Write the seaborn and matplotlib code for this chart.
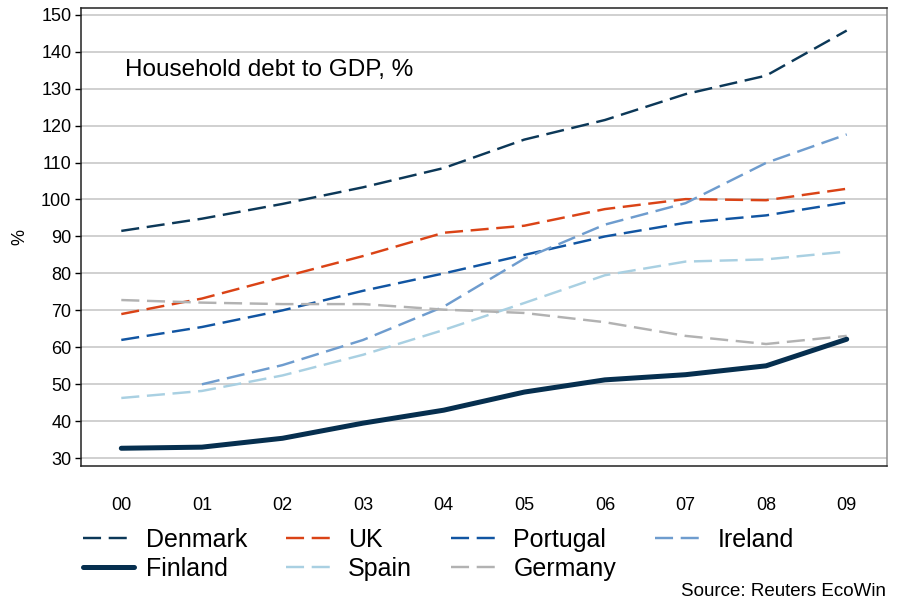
import numpy as np
import pandas as pd
import matplotlib
matplotlib.use("Agg")
import matplotlib.pyplot as plt
import seaborn as sns

# data
years = ['00', '01', '02', '03', '04', '05', '06', '07', '08', '09']
denmark = [91.5, 94.8, 98.8, 103.3, 108.5, 116.2, 121.5, 128.5, 133.5, 145.7]
uk = [69.0, 73.2, 79.0, 84.7, 91.0, 92.9, 97.4, 100.1, 99.8, 102.9]
portugal = [62.0, 65.5, 70.0, 75.3, 80.0, 85.0, 90.0, 93.7, 95.7, 99.2]
ireland = [np.nan, 50.0, 55.2, 62.0, 71.0, 84.0, 93.2, 99.0, 109.9, 117.6]
finland = [32.7, 33.0, 35.4, 39.5, 43.0, 47.9, 51.2, 52.6, 55.0, 62.2]
spain = [46.3, 48.2, 52.4, 58.0, 64.7, 72.0, 79.5, 83.2, 83.8, 85.9]
germany = [72.8, 72.1, 71.7, 71.7, 70.2, 69.3, 66.8, 63.1, 60.9, 63.1]

countries = ['Denmark', 'UK', 'Portugal', 'Ireland', 'Finland', 'Spain', 'Germany']
series = [denmark, uk, portugal, ireland, finland, spain, germany]
colors = {
    'Denmark': '#0c3858',
    'UK': '#da4316',
    'Portugal': '#1155a2',
    'Ireland': '#6e9cce',
    'Finland': '#062f4f',
    'Spain': '#a9d0e2',
    'Germany': '#b2b2b2',
}

sns.set_style("white")
plt.rcParams['font.family'] = ['Liberation Sans', 'DejaVu Sans']
plt.rcParams['lines.scale_dashes'] = False
plt.rcParams['text.color'] = 'black'
plt.rcParams['xtick.color'] = 'black'
plt.rcParams['ytick.color'] = 'black'

df = pd.DataFrame({'year': np.tile(np.arange(len(years)), len(countries)),
                   'country': np.repeat(countries, len(years)),
                   'value': np.concatenate(series)})

fig = plt.figure(figsize=(8.97, 6.0), dpi=100)
ax = fig.add_axes([81 / 897, 1 - 466 / 600, (887 - 81) / 897, (466 - 8) / 600])

lines = {}
for name in countries:
    sub = df[df['country'] == name].dropna()
    if name == 'Finland':
        sns.lineplot(data=sub, x='year', y='value', ax=ax, color=colors[name],
                     linewidth=3.6, label=name, zorder=3)
    else:
        sns.lineplot(data=sub, x='year', y='value', ax=ax, color=colors[name],
                     linewidth=1.75, linestyle=(0, (13, 5.5)), label=name, zorder=2)
    lines[name] = ax.get_lines()[-1]

ax.set_xlim(-0.5, 9.5)
ax.set_ylim(27.9, 151.8)
ax.set_yticks(range(30, 151, 10))
ax.set_xticks(range(len(years)))
ax.set_xticklabels(years)
ax.set_xticks(np.arange(-0.5, 10, 1), minor=True)
ax.tick_params(axis='x', which='major', length=0, pad=22, labelsize=13)
ax.tick_params(axis='x', which='minor', length=5, width=1, color='#555555', direction='out')
ax.tick_params(axis='y', length=4, width=1, direction='out', left=True, labelsize=13, pad=3)
ax.grid(axis='y', color='#c8c8c8', linewidth=1.2)
ax.set_axisbelow(True)
ax.set_xlabel('')
ax.set_ylabel('')
for s in ['left', 'bottom', 'top']:
    ax.spines[s].set_color('#222222')
    ax.spines[s].set_linewidth(1.1)
ax.spines['right'].set_color('#8c8c8c')
ax.spines['right'].set_linewidth(1.1)

ax.legend_.remove()
order = ['Denmark', 'Finland', 'UK', 'Spain', 'Portugal', 'Germany', 'Ireland']
fig.legend([lines[n] for n in order], order, loc='upper left',
           bbox_to_anchor=(83 / 897, 1 - 528 / 600), ncol=4, frameon=False,
           fontsize=18, handlelength=2.05, handletextpad=0.45, columnspacing=1.55,
           labelspacing=0.2, borderpad=0, borderaxespad=0)

fig.text(125 / 897, 1 - 70 / 600, 'Household debt to GDP, %', fontsize=17.5,
         ha='left', va='center')
fig.text(20 / 897, 1 - 237 / 600, '%', fontsize=13, rotation=90, ha='center', va='center')
fig.text(886 / 897, 1 - 591 / 600, 'Source: Reuters EcoWin', fontsize=13.5,
         ha='right', va='center')

fig.savefig('out.png', dpi=100)
